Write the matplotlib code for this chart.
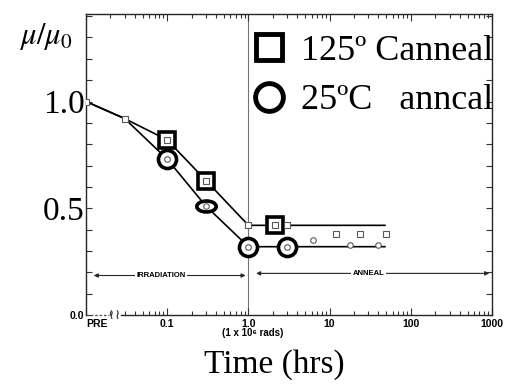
import matplotlib
matplotlib.use('Agg')
import matplotlib.pyplot as plt
from matplotlib.lines import Line2D
from matplotlib.path import Path
from matplotlib.ticker import FixedLocator, MultipleLocator, LogLocator, NullFormatter

plt.rcParams['mathtext.fontset'] = 'stix'

# fitted curves (mu/mu0 against time in hours, PRE drawn at 0.01)
fit125_t = [0.01, 0.03, 0.1, 0.3, 1.0, 48]
fit125_mu = [1.0, 0.92, 0.82, 0.63, 0.42, 0.42]
fit25_t = [0.01, 0.03, 0.1, 0.3, 1.0, 48]
fit25_mu = [1.0, 0.92, 0.73, 0.51, 0.32, 0.32]

# small measured points
pts125_t = [0.01, 0.03, 0.1, 0.3, 1.0, 2.1, 3.0, 12, 24, 49]
pts125_mu = [1.0, 0.92, 0.82, 0.63, 0.42, 0.42, 0.42, 0.38, 0.38, 0.38]
pts25_t = [0.1, 0.3, 1.0, 3.0, 6.3, 18, 40]
pts25_mu = [0.73, 0.51, 0.32, 0.32, 0.35, 0.33, 0.33]

# points circled by hand
hi125_t = [0.1, 0.3, 2.1]
hi125_mu = [0.82, 0.63, 0.42]
hi25_t = [0.1, 0.3, 1.0, 3.0]
hi25_mu = [0.73, 0.51, 0.32, 0.32]

xticks = [0.01, 0.1, 1.0, 10, 100, 1000]
xticklabels = ['PRE', '0.1', '1.0', '10', '100', '1000']
yticks = [0.0, 0.5, 1.0]
yticklabels = ['0.0', '0.5', '1.0']

serif = 'Liberation Serif'
sans = ['Liberation Sans', 'DejaVu Sans']

fig = plt.figure(figsize=(5.11, 3.85), dpi=100)
ax = fig.add_axes([86/511, 70/385, 406/511, 301/385])
ax.set_xscale('log')
ax.set_xlim(0.01, 1000)
ax.set_ylim(0, 1.41)

ax.axvline(1.0, color='0.45', lw=0.8, zorder=1)

ax.plot(fit125_t, fit125_mu, color='black', lw=1.2, zorder=2)
ax.plot(fit25_t, fit25_mu, color='black', lw=1.2, zorder=2)

# hand-drawn highlight markers
ax.plot(hi125_t, hi125_mu, 's', ms=12, mfc='white', mec='black', mew=2.6, ls='none', zorder=3)
ellipse = Path.unit_circle().transformed(matplotlib.transforms.Affine2D().scale(1.6, 0.9))
for t, m in zip(hi25_t, hi25_mu):
    mk = ellipse if t == 0.3 else 'o'
    ax.plot([t], [m], marker=mk, ms=14 if t == 0.3 else 13, mfc='white', mec='black',
            mew=2.6, ls='none', zorder=3)

ax.plot(pts125_t, pts125_mu, 's', ms=4, mfc='white', mec='0.35', mew=0.8, ls='none', zorder=4)
ax.plot(pts25_t, pts25_mu, 'o', ms=4, mfc='white', mec='0.35', mew=0.8, ls='none', zorder=4)

# ticks
ax.xaxis.set_major_locator(FixedLocator(xticks))
ax.xaxis.set_minor_locator(LogLocator(base=10, subs=range(2, 10)))
ax.xaxis.set_minor_formatter(NullFormatter())
ax.set_xticklabels(xticklabels, fontfamily=sans, fontweight='bold', fontsize=7.5)
ax.get_xticklabels()[0].set_horizontalalignment('left')
ax.yaxis.set_major_locator(FixedLocator(yticks))
ax.yaxis.set_minor_locator(MultipleLocator(0.1))
ax.set_yticklabels(yticklabels)
for lab in ax.get_yticklabels():
    if lab.get_text() == '0.0':
        lab.set_fontfamily(sans)
        lab.set_fontweight('bold')
        lab.set_fontsize(7.5)
    else:
        lab.set_fontfamily(serif)
        lab.set_fontsize(24)
ax.tick_params(which='both', direction='in', top=True, right=True, width=0.8, color='0.2')
ax.tick_params(axis='x', which='major', length=5, pad=3)
ax.tick_params(axis='x', which='minor', length=3)
ax.tick_params(axis='y', which='both', length=4, pad=1)

for s in ax.spines.values():
    s.set_linewidth(1.0)
    s.set_color('0.15')

# broken x axis near PRE
ax.spines['bottom'].set_bounds(0.027, 1000)
ax.plot([0.01, 0.019], [0, 0], color='0.3', lw=0.9, ls=(0, (2, 1.5)), clip_on=False)
for bx in [0.0205, 0.0245]:
    ax.text(bx, 0.0, '≀', fontsize=10, ha='center', va='center', family='DejaVu Sans',
            color='0.15', zorder=6, clip_on=False)

# irradiation / anneal bars
ax.annotate('', xy=(0.0115, 0.185), xytext=(1.0, 0.185),
            arrowprops=dict(arrowstyle='<|-|>', color='0.15', lw=0.8, mutation_scale=6))
ax.text(0.085, 0.185, 'IRRADIATION', fontsize=5.5, fontweight='bold', family=sans,
        ha='center', va='center', bbox=dict(fc='white', ec='none', pad=1))
ax.annotate('', xy=(1.15, 0.195), xytext=(1000, 0.195),
            arrowprops=dict(arrowstyle='<|-|>', color='0.15', lw=0.8, mutation_scale=6))
ax.text(30, 0.195, 'ANNEAL', fontsize=5.5, fontweight='bold', family=sans,
        ha='center', va='center', bbox=dict(fc='white', ec='none', pad=1))

handles = [Line2D([], [], marker='s', ms=19, mfc='white', mec='black', mew=3.5, ls='none'),
           Line2D([], [], marker='o', ms=20, mfc='white', mec='black', mew=3.5, ls='none')]
ax.legend(handles, ['125º Canneal', '25ºC   anncal'], loc='upper left',
          bbox_to_anchor=(0.406, 0.932), frameon=False, borderpad=0, borderaxespad=0,
          handlelength=1.0, handletextpad=0.4, labelspacing=0.45,
          prop={'family': serif, 'size': 26})

fig.text(46/511, 1 - 37/385, r'$\mu/\mu_0$', fontsize=22, ha='center', va='center')
fig.text(253/511, 1 - 333/385, '(1 x 10⁶ rads)', fontsize=7, fontweight='bold', family=sans,
         ha='center', va='center')
fig.text(274/511, 1 - 365/385, 'Time (hrs)', fontsize=24, family=serif, ha='center', va='center')

fig.savefig('out.png', dpi=100)
